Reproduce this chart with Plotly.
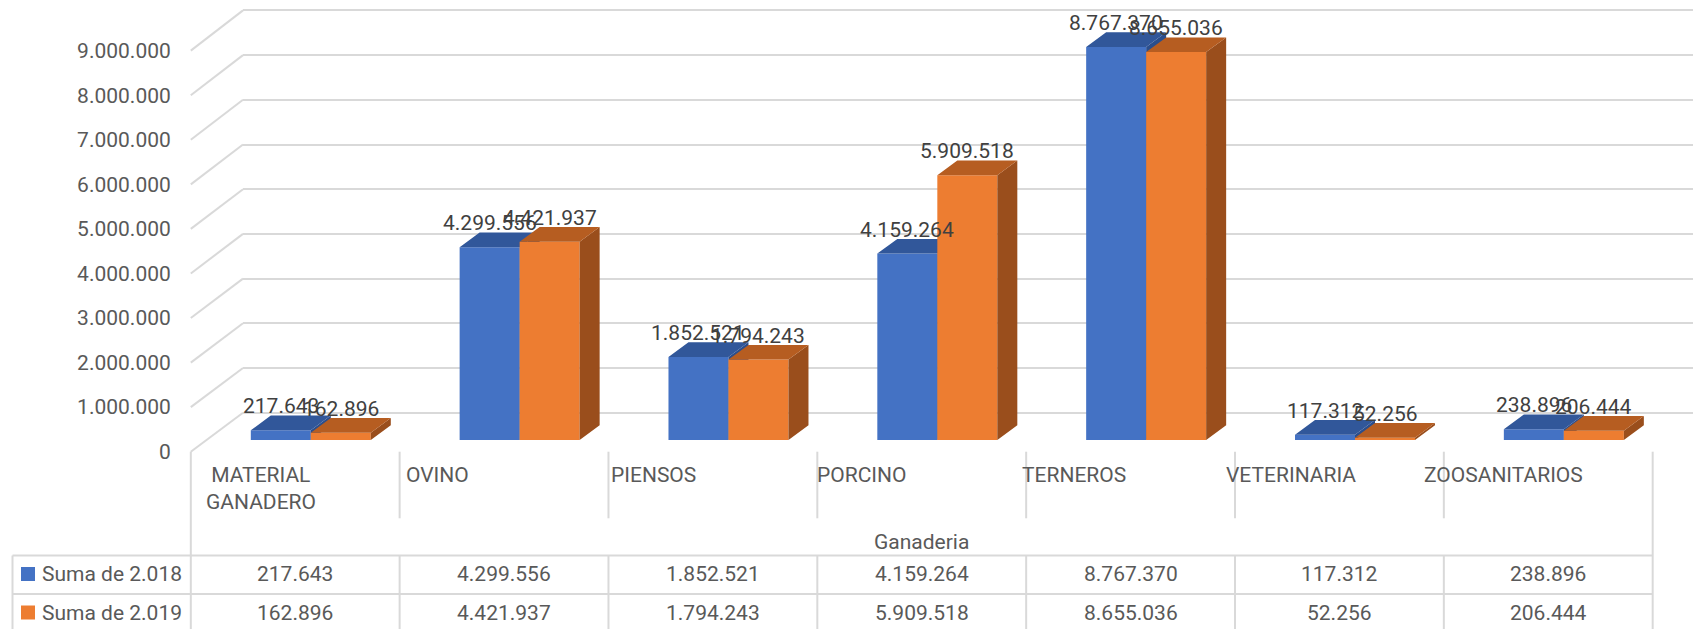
import plotly.graph_objects as go

# ---------------- data ----------------
categories = ["MATERIAL GANADERO", "OVINO", "PIENSOS", "PORCINO", "TERNEROS", "VETERINARIA", "ZOOSANITARIOS"]
category_labels = [" MATERIAL<br>GANADERO", "OVINO", "PIENSOS", "PORCINO", "TERNEROS", "VETERINARIA", "ZOOSANITARIOS"]
series_names = ["Suma de 2.018", "Suma de 2.019"]
values_2018 = [217643, 4299556, 1852521, 4159264, 8767370, 117312, 238896]
values_2019 = [162896, 4421937, 1794243, 5909518, 8655036, 52256, 206444]
y_tick_values = [0, 1000000, 2000000, 3000000, 4000000, 5000000, 6000000, 7000000, 8000000, 9000000]
group_title = "Ganaderia"

# ---------------- style / geometry ----------------
W, H = 1693, 629
FONT = "Roboto"
TXT = "#595959"
LBL = "#404040"
GRID = "#D9D9D9"
front_colors = ["#4472C4", "#ED7D31"]
top_colors = ["#31579A", "#B65D21"]
side_colors = ["#2B4E8C", "#9A4E1C"]

COL_LEFT = 190.8          # px, left edge of first category column
COL_W = 208.84            # px per category
TABLE_LEFT = 12.5
TABLE_RIGHT = COL_LEFT + 7 * COL_W
BACK_LEFT = 243.0

BAR_ZERO, BAR_PPM, BAR_MAX = 440.0, 44.82, 9.8e6
BACK_ZERO, BACK_PPM, BACK_MAX = 412.7, 44.7, 9.2e6
FRONT_ZERO, FRONT_PPM, FRONT_MAX = 451.7, 44.56, 9.5e6

BAR_OFF_PX = [60.0, 120.0]   # left edge of front face within column
BAR_W_PX = 60.0
DEPTH_DX_PX, DEPTH_DY_PX = 20.0, 14.7

label_dx = [13, 4, 1, -2, -6, -11, -22]


def px_x(px):
    return px / W


def px_y(py):
    return 1 - py / H


def domain(zero_py, ppm, rmax):
    d0 = 1 - zero_py / H
    return [d0, d0 + rmax / 1e6 * ppm / H]


x_r0 = -(COL_LEFT + COL_W / 2) / COL_W
x_range = [x_r0, x_r0 + W / COL_W]

unit_w = BAR_W_PX / COL_W
dxu = DEPTH_DX_PX / COL_W
dyu = DEPTH_DY_PX / BAR_PPM * 1e6

fig = go.Figure()

# back wall subplot (gridlines)
fig.add_trace(go.Scatter(x=[0.5], y=[1e6], mode="markers", marker=dict(opacity=0),
                         hoverinfo="skip", showlegend=False, xaxis="x", yaxis="y"))
# front label axis dummy
fig.add_trace(go.Scatter(x=[0], y=[1e6], mode="markers", marker=dict(opacity=0),
                         hoverinfo="skip", showlegend=False, xaxis="x2", yaxis="y4"))

series = [values_2018, values_2019]
axes = [("x2", "y2"), ("x3", "y3")]
xs = list(range(len(categories)))

for s, vals in enumerate(series):
    xa, ya = axes[s]
    off = (BAR_OFF_PX[s] - COL_W / 2) / COL_W
    fig.add_trace(go.Bar(x=xs, y=vals, offset=off, width=unit_w, name=series_names[s],
                         marker=dict(color=front_colors[s], line=dict(width=0)),
                         showlegend=False, xaxis=xa, yaxis=ya))
    tx, ty, sx, sy = [], [], [], []
    for i, v in enumerate(vals):
        xl = i + off
        xr = xl + unit_w
        tx += [xl, xr, xr + dxu, xl + dxu, xl, None]
        ty += [v, v, v + dyu, v + dyu, v, None]
        sx += [xr, xr, xr + dxu, xr + dxu, xr, None]
        sy += [0, v, v + dyu, dyu, 0, None]
    fig.add_trace(go.Scatter(x=sx, y=sy, mode="lines", fill="toself", fillcolor=side_colors[s],
                             line=dict(width=0), hoverinfo="skip", showlegend=False,
                             xaxis=xa, yaxis=ya))
    fig.add_trace(go.Scatter(x=tx, y=ty, mode="lines", fill="toself", fillcolor=top_colors[s],
                             line=dict(width=0), hoverinfo="skip", showlegend=False,
                             xaxis=xa, yaxis=ya))


def fmt(v):
    return f"{v:,}".replace(",", ".")


annotations = []
# data labels
for s, vals in enumerate(series):
    off = (BAR_OFF_PX[s] - COL_W / 2) / COL_W
    for i, v in enumerate(vals):
        annotations.append(dict(x=i + off + unit_w / 2, y=v, xref="x2", yref="y2",
                                xanchor="center", yanchor="middle",
                                text=fmt(v), showarrow=False, yshift=24,
                                font=dict(family=FONT, size=21, color=LBL)))

# category labels
for i, lab in enumerate(category_labels):
    annotations.append(dict(x=px_x(COL_LEFT + i * COL_W + label_dx[i]), y=px_y(461),
                            xref="paper", yref="paper", xanchor="left", yanchor="top",
                            align="left", text=lab, showarrow=False,
                            font=dict(family=FONT, size=21, color=TXT)))
annotations.append(dict(x=px_x((COL_LEFT + TABLE_RIGHT) / 2), y=px_y(541.7), xref="paper", yref="paper",
                        xanchor="center", yanchor="middle",
                        text=group_title, showarrow=False, font=dict(family=FONT, size=21, color=TXT)))

row_y = [574, 612.5]
for s, vals in enumerate(series):
    annotations.append(dict(x=px_x(40), y=px_y(row_y[s]), xref="paper", yref="paper",
                            xanchor="left", yanchor="middle", text=series_names[s], showarrow=False,
                            font=dict(family=FONT, size=21, color=TXT)))
    for i, v in enumerate(vals):
        annotations.append(dict(x=px_x(COL_LEFT + (i + 0.5) * COL_W), y=px_y(row_y[s]),
                                xref="paper", yref="paper", xanchor="center", yanchor="middle",
                                text=fmt(v), showarrow=False,
                                font=dict(family=FONT, size=21, color=TXT)))

shapes = []
line_style = dict(color=GRID, width=2)
# diagonals linking front labels to back wall
for v in y_tick_values:
    fy = FRONT_ZERO - v / 1e6 * FRONT_PPM
    by = BACK_ZERO - v / 1e6 * BACK_PPM
    shapes.append(dict(type="line", xref="paper", yref="paper", layer="below",
                       x0=px_x(COL_LEFT), y0=px_y(fy), x1=px_x(BACK_LEFT), y1=px_y(by), line=line_style))

# table lines
for yy in [555.5, 594]:
    shapes.append(dict(type="line", xref="paper", yref="paper", layer="below",
                       x0=px_x(TABLE_LEFT), x1=px_x(TABLE_RIGHT), y0=px_y(yy), y1=px_y(yy), line=line_style))
shapes.append(dict(type="line", xref="paper", yref="paper", layer="below",
                   x0=px_x(TABLE_LEFT), x1=px_x(TABLE_LEFT), y0=px_y(555.5), y1=0, line=line_style))
for xx in [COL_LEFT, TABLE_RIGHT]:
    shapes.append(dict(type="line", xref="paper", yref="paper", layer="below",
                       x0=px_x(xx), x1=px_x(xx), y0=px_y(FRONT_ZERO), y1=0, line=line_style))
for i in range(1, 7):
    xx = COL_LEFT + i * COL_W
    shapes.append(dict(type="line", xref="paper", yref="paper", layer="below",
                       x0=px_x(xx), x1=px_x(xx), y0=px_y(FRONT_ZERO), y1=px_y(518.3), line=line_style))
    shapes.append(dict(type="line", xref="paper", yref="paper", layer="below",
                       x0=px_x(xx), x1=px_x(xx), y0=px_y(555.5), y1=0, line=line_style))
# legend keys
for s in range(2):
    shapes.append(dict(type="rect", xref="paper", yref="paper", layer="above",
                       x0=px_x(21), x1=px_x(35), y0=px_y(row_y[s] - 7), y1=px_y(row_y[s] + 7),
                       fillcolor=front_colors[s], line=dict(width=0)))

hidden_x = dict(visible=False, fixedrange=True, automargin=False)

fig.update_layout(
    width=W, height=H,
    margin=dict(l=0, r=0, t=0, b=0, pad=0, autoexpand=False),
    paper_bgcolor="white",
    plot_bgcolor="rgba(0,0,0,0)",
    separators=",.",
    showlegend=False,
    barmode="overlay",
    xaxis=dict(domain=[px_x(BACK_LEFT), 1], range=[0, 1], **hidden_x),
    yaxis=dict(domain=domain(BACK_ZERO, BACK_PPM, BACK_MAX), range=[0, BACK_MAX],
               showgrid=True, gridcolor=GRID, gridwidth=2, zeroline=True, zerolinecolor=GRID,
               zerolinewidth=2, dtick=1e6, tick0=0, showticklabels=False, ticks="",
               showline=False, fixedrange=True, anchor="x", automargin=False),
    xaxis2=dict(domain=[0, 1], range=x_range, anchor="y2", **hidden_x),
    yaxis2=dict(domain=domain(BAR_ZERO, BAR_PPM, BAR_MAX), range=[0, BAR_MAX], visible=False,
                anchor="x2", fixedrange=True, automargin=False),
    xaxis3=dict(overlaying="x2", range=x_range, anchor="y3", **hidden_x),
    yaxis3=dict(overlaying="y2", range=[0, BAR_MAX], visible=False, anchor="x3", fixedrange=True,
                automargin=False),
    yaxis4=dict(domain=domain(FRONT_ZERO, FRONT_PPM, FRONT_MAX), range=[0, FRONT_MAX],
                anchor="free", position=px_x(COL_LEFT), side="left",
                tickvals=y_tick_values, tickformat=",.0f", showgrid=False, zeroline=False,
                showline=False, ticks="", ticklabelstandoff=20, automargin=False,
                tickfont=dict(family=FONT, size=21, color=TXT), fixedrange=True),
    annotations=annotations,
    shapes=shapes,
)

fix_css = (
    "document.documentElement.style.overflow='hidden';"
    "document.body.style.margin='0';document.body.style.overflow='hidden';"
)
fig.write_html("out.html", config={"displayModeBar": False}, post_script=fix_css)
